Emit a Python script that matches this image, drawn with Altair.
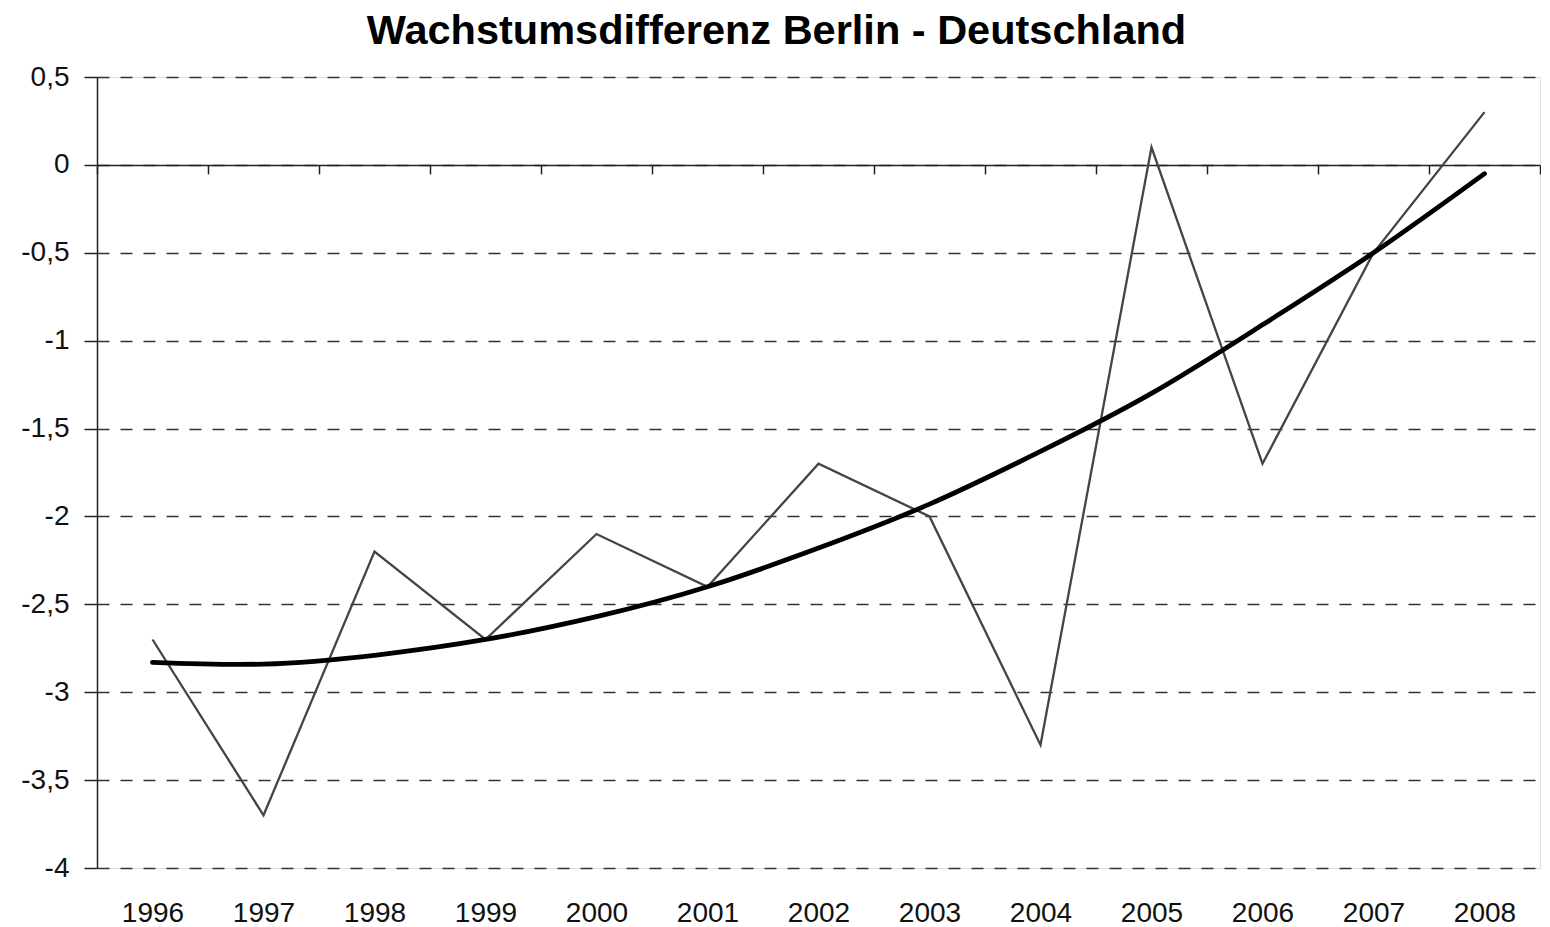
import altair as alt
import pandas as pd

years = ["1996", "1997", "1998", "1999", "2000", "2001", "2002",
         "2003", "2004", "2005", "2006", "2007", "2008"]
diff_values = [-2.7, -3.7, -2.2, -2.7, -2.1, -2.4, -1.7, -2.0, -3.3, 0.1, -1.7, -0.5, 0.3]
trend_values = [-2.83, -2.84, -2.79, -2.70, -2.57, -2.40, -2.18, -1.93, -1.63, -1.30, -0.91, -0.50, -0.05]
y_ticks = [0.5, 0, -0.5, -1, -1.5, -2, -2.5, -3, -3.5, -4]

df = pd.DataFrame({"Jahr": years, "Differenz": diff_values, "Trend": trend_values})

W = 1443
H = 791
zero_offset = -H * 8 / 9

x_enc = alt.X(
    "Jahr:O",
    sort=years,
    scale=alt.Scale(paddingInner=0, paddingOuter=0),
    axis=alt.Axis(
        title=None,
        orient="bottom",
        offset=zero_offset,
        tickBand="extent",
        tickSize=9,
        tickWidth=1.5,
        tickColor="#222222",
        domain=True,
        domainColor="#222222",
        domainWidth=1.5,
        labelPadding=726,
        labelFont="Liberation Sans",
        labelFontSize=28,
        labelColor="#111111",
        labelAngle=0,
        grid=False,
    ),
)

y_scale = alt.Scale(domain=[-4, 0.5], nice=False, zero=False)
y_axis = alt.Axis(
    title=None,
    values=y_ticks,
    labelExpr="replace(toString(datum.value), '.', ',')",
    labelFont="Liberation Sans",
    labelFontSize=28,
    labelColor="#111111",
    labelPadding=15,
    tickSize=13,
    tickWidth=1.5,
    tickColor="#222222",
    domain=True,
    domainColor="#222222",
    domainWidth=1.5,
    grid=True,
    gridDash=[12, 11],
    gridColor="#333333",
    gridWidth=1.5,
)

base = alt.Chart(df)

data_line = base.mark_line(color="#444444", strokeWidth=2.3).encode(
    x=x_enc,
    y=alt.Y("Differenz:Q", scale=y_scale, axis=y_axis),
)

trend_line = base.mark_line(color="#000000", strokeWidth=4.8, interpolate="natural",
                            strokeCap="round").encode(
    x=alt.X("Jahr:O", sort=years),
    y=alt.Y("Trend:Q", scale=y_scale),
)

chart = alt.layer(data_line, trend_line).properties(
    width=W,
    height=H,
    padding={"left": 12, "top": 2, "right": 0, "bottom": 0},
    title=alt.TitleParams(
        text="Wachstumsdifferenz Berlin - Deutschland",
        font="Liberation Sans",
        fontSize=41.5,
        fontWeight="bold",
        color="#000000",
        anchor="middle",
        dx=-42,
        offset=11,
    ),
).configure_view(stroke=None).configure(background="white")

chart.save("out.html", embed_options={"renderer": "svg", "actions": False})
